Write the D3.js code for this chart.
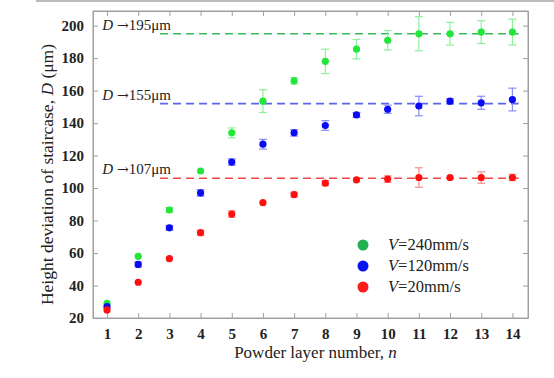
<!DOCTYPE html>
<html>
<head>
<meta charset="utf-8">
<script src="https://cdn.jsdelivr.net/npm/d3@7"></script>
<style>
  body { margin: 0; background: #fff; }
  svg text { font-family: "Liberation Serif", "Times New Roman", serif; fill: #222; }
  .tick-label { font-weight: bold; font-size: 15px; }
</style>
</head>
<body>
<div id="chart"></div>
<script>
// layer numbers
const layers = [1, 2, 3, 4, 5, 6, 7, 8, 9, 10, 11, 12, 13, 14];

// V = 240 mm/s
const v240 = [29, 58, 86.5, 110.5, 134, 153.5, 166, 178, 185.5, 191, 195, 195, 196, 196];
const v240Err = [1, 1, 1.5, 1, 3, 7, 2, 7.5, 6, 6, 10.5, 7, 7, 8];

// V = 120 mm/s
const v120 = [27, 53, 75.5, 97, 116, 127, 134, 138.5, 145, 148.5, 150.5, 153.5, 152.5, 154.5];
const v120Err = [1, 1.5, 1.5, 2, 2, 3, 2, 3, 1.5, 2.5, 6, 1.5, 4, 7];

// V = 20 mm/s
const v20 = [25, 42, 56.5, 72.5, 84, 91, 96, 103, 105, 105.5, 106.5, 106.5, 106.5, 106.5];
const v20Err = [1, 1, 1, 1.5, 2, 1, 1.5, 1.5, 1, 2, 6, 1, 3.5, 2];

// asymptotes
const limits = [195, 152, 106];
const limitLabels = ["195μm", "155μm", "107μm"];

const yTicks = [20, 40, 60, 80, 100, 120, 140, 160, 180, 200];
const legendLabels = ["=240mm/s", "=120mm/s", "=20mm/s"];

const width = 554, height = 378;
const margin = { top: 11, right: 26, bottom: 60, left: 93 };

const svg = d3.select("#chart").append("svg")
  .attr("width", width)
  .attr("height", height);

// thin gray rule at very top (scan artifact of original figure)
svg.append("rect")
  .attr("x", 36).attr("y", 0)
  .attr("width", width - 36).attr("height", 2)
  .attr("fill", "#bbb");

const x = d3.scaleLinear()
  .domain([0.55, 14.5])
  .range([margin.left, width - margin.right]);

const y = d3.scaleLinear()
  .domain([20, 209])
  .range([height - margin.bottom, margin.top]);

const frameColor = "#a0a0a0";
const plotW = width - margin.right - margin.left;
const plotH = height - margin.bottom - margin.top;

// axes with inward ticks
svg.append("g")
  .attr("transform", `translate(0,${height - margin.bottom})`)
  .call(d3.axisBottom(x).tickValues(layers).tickSizeInner(-5).tickSizeOuter(0).tickPadding(10))
  .call(g => g.selectAll("text").attr("class", "tick-label"));

svg.append("g")
  .attr("transform", `translate(0,${margin.top})`)
  .call(d3.axisTop(x).tickValues(layers).tickSizeInner(-5).tickSizeOuter(0).tickFormat(""));

svg.append("g")
  .attr("transform", `translate(${margin.left},0)`)
  .call(d3.axisLeft(y).tickValues(yTicks).tickSizeInner(-5).tickSizeOuter(0).tickPadding(9))
  .call(g => g.selectAll("text").attr("class", "tick-label"));

svg.append("g")
  .attr("transform", `translate(${width - margin.right},0)`)
  .call(d3.axisRight(y).tickValues(yTicks).tickSizeInner(-5).tickSizeOuter(0).tickFormat(""));

svg.selectAll(".domain").attr("stroke", frameColor);
svg.selectAll(".tick line").attr("stroke", frameColor);
svg.selectAll(".tick text").attr("fill", "#222").style("font-family", "Liberation Serif, serif");

svg.append("rect")
  .attr("x", margin.left).attr("y", margin.top)
  .attr("width", plotW).attr("height", plotH)
  .attr("fill", "none").attr("stroke", frameColor);

// series definitions
const series = [
  { vals: v240, err: v240Err, color: "#22e63a", bar: "#8ef09a", dash: "#3cb85a", legend: "#22b04e" },
  { vals: v120, err: v120Err, color: "#0a0af5", bar: "#8a8cf5", dash: "#5a66f0", legend: "#0a14f0" },
  { vals: v20, err: v20Err, color: "#ff1010", bar: "#f59090", dash: "#f04848", legend: "#ff1a1a" }
];

// dashed asymptote lines + labels
series.forEach((s, i) => {
  svg.append("line")
    .attr("x1", x(2.7)).attr("x2", x(14.2))
    .attr("y1", y(limits[i])).attr("y2", y(limits[i]))
    .attr("stroke", s.dash)
    .attr("stroke-width", 1.6)
    .attr("stroke-dasharray", "8,5");

  const t = svg.append("text")
    .attr("x", x(0.85))
    .attr("y", y(limits[i]) - 4)
    .style("font-size", "15px");
  t.append("tspan").style("font-style", "italic").text("D ");
  t.append("tspan").style("font-family", "DejaVu Serif, serif").style("font-size", "14px").text("→");
  t.append("tspan").text(limitLabels[i]);
});

// error bars and points
series.forEach(s => {
  const g = svg.append("g");
  const cap = 4;
  layers.forEach((n, j) => {
    const cx = x(n), v = s.vals[j], e = s.err[j];
    if (e > 1.2) {
      g.append("line")
        .attr("x1", cx).attr("x2", cx)
        .attr("y1", y(v - e)).attr("y2", y(v + e))
        .attr("stroke", s.bar).attr("stroke-width", 1.2);
      [v - e, v + e].forEach(ev => {
        g.append("line")
          .attr("x1", cx - cap).attr("x2", cx + cap)
          .attr("y1", y(ev)).attr("y2", y(ev))
          .attr("stroke", s.bar).attr("stroke-width", 1.2);
      });
    }
  });
  g.selectAll("circle")
    .data(s.vals)
    .join("circle")
    .attr("cx", (d, j) => x(layers[j]))
    .attr("cy", d => y(d))
    .attr("r", 3.6)
    .attr("fill", s.color);
});

// legend
const legend = svg.append("g");
series.forEach((s, i) => {
  const ly = 245 + i * 21;
  legend.append("circle")
    .attr("cx", 363).attr("cy", ly)
    .attr("r", 5.5)
    .attr("fill", s.legend);
  const t = legend.append("text")
    .attr("x", 388).attr("y", ly + 5)
    .style("font-size", "16.5px");
  t.append("tspan").style("font-style", "italic").text("V");
  t.append("tspan").text(legendLabels[i]);
});

// axis titles
const xt = svg.append("text")
  .attr("x", (margin.left + width - margin.right) / 2 + 5)
  .attr("y", 358)
  .attr("text-anchor", "middle")
  .style("font-size", "17px");
xt.append("tspan").text("Powder layer number, ");
xt.append("tspan").style("font-style", "italic").text("n");

const yt = svg.append("text")
  .attr("transform", `translate(53,${(margin.top + height - margin.bottom) / 2 + 10}) rotate(-90)`)
  .attr("text-anchor", "middle")
  .style("font-size", "17.5px");
yt.append("tspan").text("Height deviation of staircase, ");
yt.append("tspan").style("font-style", "italic").text("D");
yt.append("tspan").text(" (μm)");
</script>
</body>
</html>
